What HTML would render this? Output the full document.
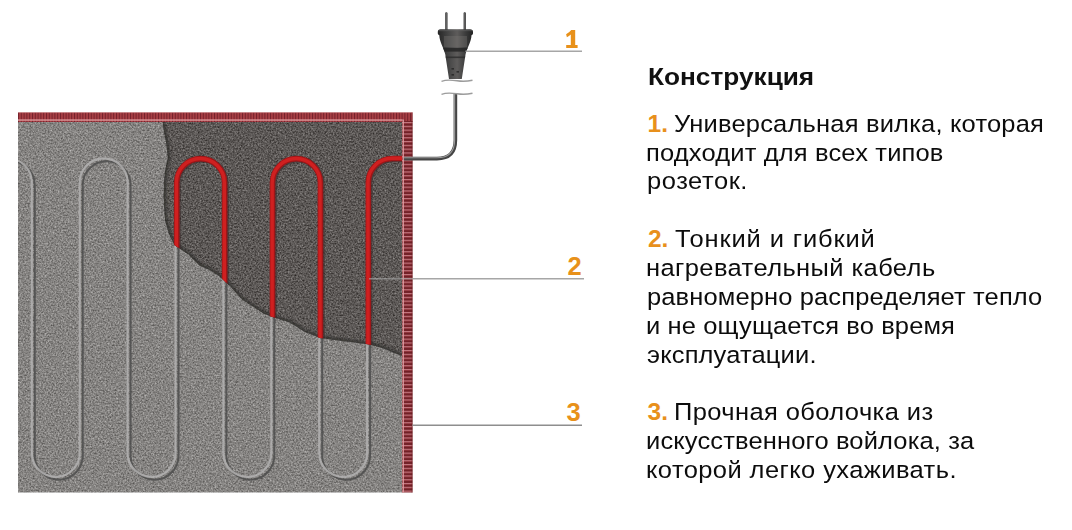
<!DOCTYPE html>
<html><head><meta charset="utf-8">
<style>
html,body{margin:0;padding:0;background:#fff;}
body{width:1072px;height:530px;position:relative;overflow:hidden;font-family:"Liberation Sans",sans-serif;}
svg.art{position:absolute;left:0;top:0;}
.t{position:absolute;font-size:24.5px;line-height:30px;color:#0c0c0c;white-space:nowrap;}
.b{font-weight:bold;color:#111;}
.n{color:#e8901c;letter-spacing:0;}
</style></head>
<body>
<svg class="art" width="620" height="530" viewBox="0 0 620 530">
  <defs>
    <filter id="grain" x="0" y="0" width="100%" height="100%" color-interpolation-filters="sRGB">
      <feTurbulence type="fractalNoise" baseFrequency="0.6" numOctaves="3" seed="7" result="t"/>
      <feColorMatrix in="t" type="matrix" values="1 0 0 0 0  1 0 0 0 0  1 0 0 0 0  0 0 0 0 1" result="g"/>
      <feComposite in="SourceGraphic" in2="g" operator="arithmetic" k1="0" k2="1" k3="0.5" k4="-0.25"/>
    </filter>
    <filter id="soft" x="-20%" y="-20%" width="140%" height="140%"><feGaussianBlur stdDeviation="1.6"/></filter>
    <filter id="soft1" x="-20%" y="-20%" width="140%" height="140%"><feGaussianBlur stdDeviation="0.5"/></filter>
    <clipPath id="dark"><path id="tearPoly" d="M160 121 L162.5 122 L163.8 131 L166.4 144.4 L167.8 157.6 L165.1 170.8 L163.8 184 L163.8 202.5 L165.1 221 L169 234 L174.4 245 L177.3 247 L188.5 254.5 L200 265.9 L209 269.6 L219.6 276.4 L230.2 286.3 L242.3 299.8 L252.9 306.6 L263.4 313.4 L271 316.5 L290 322.5 L304 331.5 L320 337.9 L342.4 341 L368 344.3 L380.9 347.5 L402 356 L402 121 Z"/></clipPath>
    <path id="serp" d="M-14.9 600 V183.45 A23.95 23.95 0 0 1 33 183.45 V455 A23.95 23.95 0 0 0 80.9 453.05 V183.45 A23.95 23.95 0 0 1 128.8 183.45 V455 A23.95 23.95 0 0 0 176.7 453.05 V183.45 A23.95 23.95 0 0 1 224.6 183.45 V455 A23.95 23.95 0 0 0 272.5 453.05 V183.45 A23.95 23.95 0 0 1 320.4 183.45 V455 A23.95 23.95 0 0 0 368.3 453.05 V180"/>
    <path id="red" d="M176.7 600 V182.6 A23.95 23.95 0 0 1 224.6 182.6 V600 M272.5 600 V182.6 A23.95 23.95 0 0 1 320.4 182.6 V600 M368.3 600 V182.5 A24 24 0 0 1 392.3 158.5 H404"/>
    <pattern id="stripeV" width="2.8" height="12" patternUnits="userSpaceOnUse" x="18">
      <rect width="2.8" height="12" fill="#9e3238"/>
      <rect width="0.9" height="12" fill="#72202a"/>
      <rect x="1.6" width="0.6" height="12" fill="#b8585e"/>
    </pattern>
    <pattern id="stripeH" width="12" height="3.8" patternUnits="userSpaceOnUse" x="402" y="122">
      <rect width="12" height="3.8" fill="#8c2c34"/>
      <rect width="12" height="1.1" fill="#c27880"/>
      <rect y="2.3" width="12" height="1" fill="#5a171c"/>
    </pattern>
    <linearGradient id="plugG" x1="0" x2="1" y1="0" y2="0">
      <stop offset="0" stop-color="#262626"/>
      <stop offset="0.3" stop-color="#454545"/>
      <stop offset="0.55" stop-color="#5e5c5b"/>
      <stop offset="0.8" stop-color="#3a3a3a"/>
      <stop offset="1" stop-color="#222"/>
    </linearGradient>
    <linearGradient id="pinG" x1="0" x2="1" y1="0" y2="0">
      <stop offset="0" stop-color="#2a2a2a"/>
      <stop offset="0.5" stop-color="#6a6a6a"/>
      <stop offset="1" stop-color="#2a2a2a"/>
    </linearGradient>
    <clipPath id="plugClip"><path id="plugBody" d="M440.5 29.3 H470 Q473 29.3 473 32 V33.5 Q473 34.8 471.5 35.2 C471.2 42 467.5 47 465.6 54 L461.8 79 H449 L445.2 54 C443.3 47 439.6 42 439.3 35.2 Q437.8 34.8 437.8 33.5 V32 Q437.8 29.3 440.5 29.3 Z"/></clipPath>
  </defs>

  <!-- MAT-LIGHT -->
  <svg x="18" y="122" width="384" height="370.5" viewBox="18 122 384 370.5" overflow="hidden">
    <g filter="url(#grain)">
      <rect x="18" y="122" width="384" height="370.5" fill="#858381"/>
    </g>
    <g fill="none" filter="url(#soft1)">
      <use href="#serp" stroke="#4e4d4c" stroke-width="2" transform="translate(1.8,1.7)" opacity="0.85"/>
      <use href="#serp" stroke="#b3b2b1" stroke-width="2.1" transform="translate(-1.2,-1.1)" opacity="0.85"/>
    </g>
  </svg>

  <!-- MAT-DARK -->
  <g clip-path="url(#dark)">
    <g filter="url(#grain)">
      <rect x="150" y="115" width="260" height="250" fill="#5c5856"/>
    </g>
    <path d="M162.5 122 L163.8 131 L166.4 144.4 L167.8 157.6 L165.1 170.8 L163.8 184 L163.8 202.5 L165.1 221 L169 234 L174.4 245 L177.3 247 L188.5 254.5 L200 265.9 L209 269.6 L219.6 276.4 L230.2 286.3 L242.3 299.8 L252.9 306.6 L263.4 313.4 L271 316.5 L290 322.5 L304 331.5 L320 337.9 L342.4 341 L368 344.3 L380.9 347.5 L402 356" fill="none" stroke="#2e2d2c" stroke-width="5" filter="url(#soft)" opacity="0.8"/>
    <g fill="none" stroke-linecap="butt">
      <use href="#red" stroke="#3a2a2a" stroke-width="6" transform="translate(1.2,0.8)" filter="url(#soft1)" opacity="0.6"/>
      <use href="#red" stroke="#9e1618" stroke-width="5.6"/>
      <use href="#red" stroke="#cf2020" stroke-width="3.4" transform="translate(-0.3,-0.2)"/>
    </g>
  </g>

  <!-- BORDERS -->
  <rect x="18" y="112.5" width="394.5" height="9.5" fill="url(#stripeV)"/>
  <rect x="18" y="119.4" width="384.5" height="1.3" fill="#e2a0a2"/>
  <rect x="18" y="112.3" width="394.5" height="0.8" fill="#c07074" opacity="0.7"/>
  <rect x="402" y="121" width="10.5" height="371.5" fill="url(#stripeH)"/>
  <rect x="402.5" y="119.5" width="1.5" height="373" fill="#e0a0a4" opacity="0.85"/>
  <rect x="411.6" y="112.5" width="1" height="380" fill="#6a1c20" opacity="0.6"/>

  <!-- CABLE -->
  <path d="M404 158.6 H437 Q455.4 158.6 455.4 140 V94" fill="none" stroke="#454545" stroke-width="3.6"/>
  <path d="M404 157.8 H437 Q454.6 157.8 454.6 140 V94" fill="none" stroke="#9a9a9a" stroke-width="1.1"/>
  <path d="M441.5 81.3 C447 79.3 452 80 457 80.8 S467 81.5 472.5 80.2" fill="none" stroke="#9c9c9c" stroke-width="1.4"/>
  <path d="M441.5 94.3 C447 92.3 452 93 457 93.8 S467 94.5 472.5 93.2" fill="none" stroke="#9c9c9c" stroke-width="1.4"/>

  <!-- PLUG -->
  <path d="M445.2 30 V13 Q446.3 11 447.5 13 V30 Z" fill="url(#pinG)"/>
  <path d="M463.6 30 V13 Q464.7 11 465.9 13 V30 Z" fill="url(#pinG)"/>
  <use href="#plugBody" fill="url(#plugG)"/>
  <g clip-path="url(#plugClip)">
    <rect x="438.5" y="30" width="34" height="1.2" fill="#666" opacity="0.5"/>
    <rect x="436" y="48" width="40" height="3.6" fill="#262626" opacity="0.85"/>
    <rect x="436" y="56.5" width="40" height="1.6" fill="#2c2c2c" opacity="0.8"/>
    <rect x="444" y="36" width="23" height="11" fill="#7a7876" opacity="0.35"/>
    <rect x="451.5" y="68" width="2.5" height="1.6" fill="#1e1e1e" opacity="0.7"/>
    <rect x="451.5" y="74" width="2.5" height="1.6" fill="#1e1e1e" opacity="0.7"/>
    <rect x="456.5" y="71" width="2.5" height="1.6" fill="#1e1e1e" opacity="0.7"/>
  </g>

  <!-- POINTERS -->
  <line x1="465.5" y1="51.2" x2="582" y2="51.2" stroke="#a6a6a6" stroke-width="1.5"/>
  <line x1="369" y1="278.8" x2="412.5" y2="278.8" stroke="#a8a8a8" stroke-width="1.4" opacity="0.65"/>
  <line x1="412.5" y1="278.8" x2="584" y2="278.8" stroke="#a6a6a6" stroke-width="1.5"/>
  <line x1="412.5" y1="425.2" x2="582" y2="425.2" stroke="#8e8e8e" stroke-width="1.5"/>

  <!-- NUMBERS -->
  <g fill="#e8911a" font-family="Liberation Sans" font-weight="bold" font-size="25.5">
    <path d="M571.2 30 H575.2 V45 H577.6 V47.9 H566.2 V45 H570.8 V34.6 Q569 36.3 566.9 37.2 L566.1 34.3 Q569.3 32.6 571.2 30 Z"/>
    <text x="567.5" y="275.3">2</text>
    <text x="566.6" y="421.3">3</text>
  </g>
</svg>

<!-- TEXT -->
<div class="t b" style="left:647.7px;top:61.8px;transform:scaleX(1.07);transform-origin:0 0">Конструкция</div>
<div class="t b n" style="left:647.5px;top:108.7px">1.</div>
<div class="t b n" style="left:647.9px;top:224.1px">2.</div>
<div class="t b n" style="left:647.5px;top:397.2px">3.</div>
<div class="t" style="left:673.9px;top:108.70px;letter-spacing:0.192px;transform:scaleX(1.04);transform-origin:0 0">Универсальная вилка, которая</div>
<div class="t" style="left:646.4px;top:137.55px;letter-spacing:0.165px;transform:scaleX(1.04);transform-origin:0 0">подходит для всех типов</div>
<div class="t" style="left:647.4px;top:166.40px;letter-spacing:0.535px;transform:scaleX(1.04);transform-origin:0 0">розеток.</div>
<div class="t" style="left:675.0px;top:224.10px;letter-spacing:0.845px;transform:scaleX(1.04);transform-origin:0 0">Тонкий и гибкий</div>
<div class="t" style="left:646.4px;top:252.95px;letter-spacing:0.395px;transform:scaleX(1.04);transform-origin:0 0">нагревательный кабель</div>
<div class="t" style="left:647.4px;top:281.80px;letter-spacing:0.128px;transform:scaleX(1.04);transform-origin:0 0">равномерно распределяет тепло</div>
<div class="t" style="left:646.4px;top:310.65px;letter-spacing:0.130px;transform:scaleX(1.04);transform-origin:0 0">и не ощущается во время</div>
<div class="t" style="left:647.4px;top:339.50px;letter-spacing:0.149px;transform:scaleX(1.04);transform-origin:0 0">эксплуатации.</div>
<div class="t" style="left:673.8px;top:397.20px;letter-spacing:0.389px;transform:scaleX(1.04);transform-origin:0 0">Прочная оболочка из</div>
<div class="t" style="left:646.4px;top:426.05px;letter-spacing:0.142px;transform:scaleX(1.04);transform-origin:0 0">искусственного войлока, за</div>
<div class="t" style="left:646.4px;top:454.90px;letter-spacing:0.404px;transform:scaleX(1.04);transform-origin:0 0">которой легко ухаживать.</div>
</body></html>
